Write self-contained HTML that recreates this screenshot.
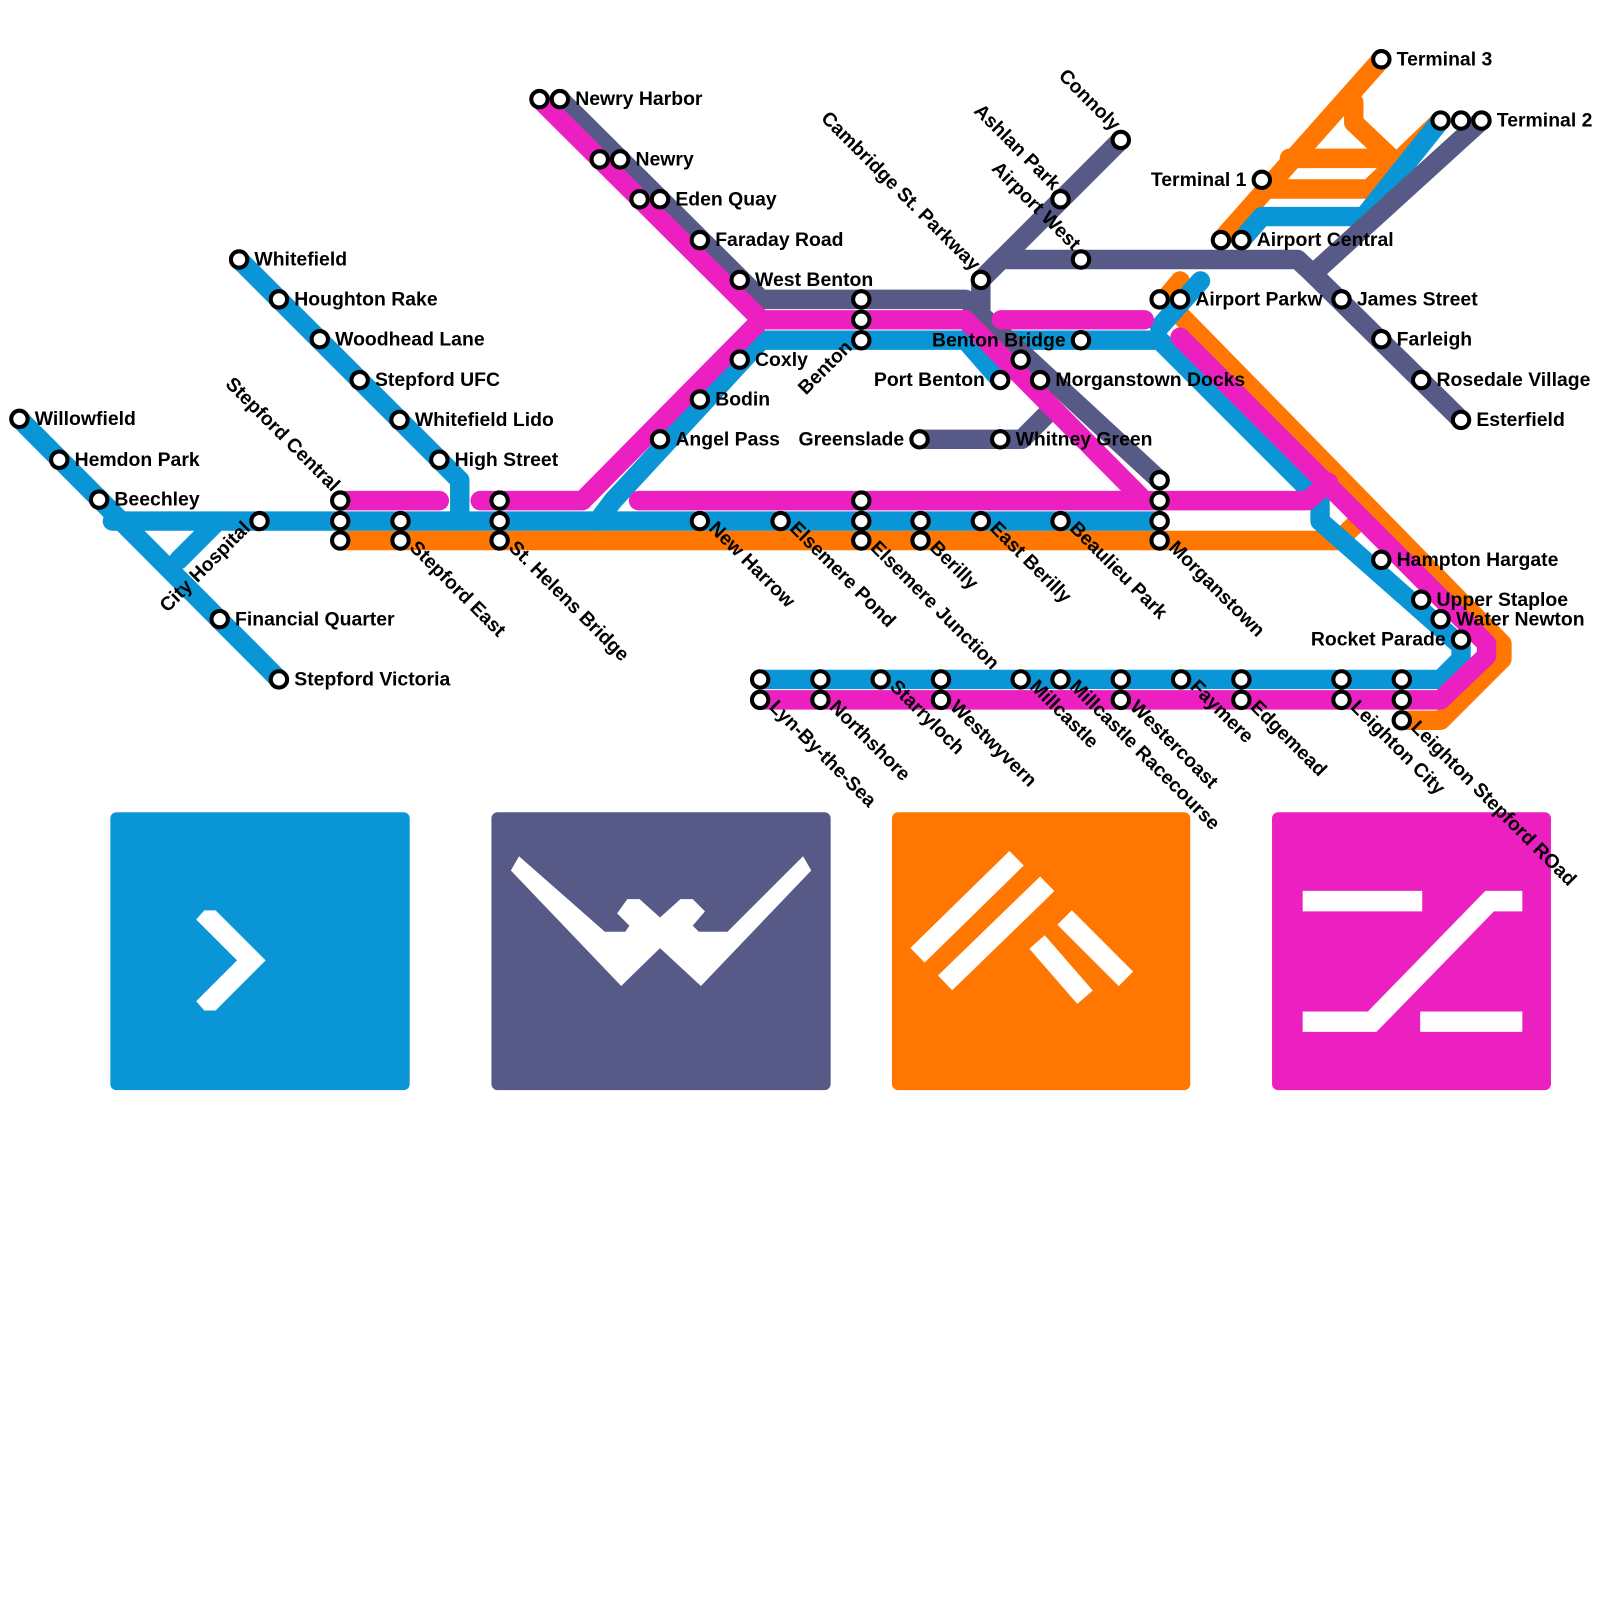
<!DOCTYPE html>
<html><head><meta charset="utf-8"><style>
html,body{margin:0;padding:0;background:#fff;}
svg{display:block;}
text{font-family:"Liberation Sans",sans-serif;font-weight:bold;font-size:19px;fill:#000;}
</style></head><body>
<svg width="1600" height="1600" viewBox="0 0 1566 1566" xmlns="http://www.w3.org/2000/svg">
<rect x="108" y="795" width="293" height="272" rx="6" fill="#0a96d6"/>
<rect x="481" y="795" width="332" height="272" rx="6" fill="#575a87"/>
<rect x="873" y="795" width="292" height="272" rx="6" fill="#ff7700"/>
<rect x="1245" y="795" width="273" height="272" rx="6" fill="#ec1fc0"/>
<polygon fill="#fff" points="192,900 200,891 211,891 260,940 211,989 200,989 192,980 232,940"/>
<polygon fill="#fff" points="500,852 508,838 592,912 612,912 616,906 604,894 614,880 626,880 646,898 666,880 678,880 690,892 678,906 684,912 712,912 786,838 794,852 686,965 646,928 608,965"/>
<g stroke="#fff" stroke-width="20" stroke-linecap="butt">
<line x1="898" y1="935" x2="995" y2="840"/>
<line x1="925" y1="962" x2="1025" y2="865"/>
<line x1="1015" y1="922" x2="1062" y2="976"/>
<line x1="1042" y1="898" x2="1102" y2="958"/>
</g>
<g stroke="#fff" stroke-width="20" stroke-linecap="butt" fill="none" stroke-linejoin="miter">
<line x1="1275" y1="882" x2="1392" y2="882"/>
<polyline points="1275,1000 1343,1000 1458,882 1490,882"/>
<line x1="1390" y1="1000" x2="1490" y2="1000"/>
</g>
<g fill="none" stroke-width="19" stroke-linejoin="round" stroke-linecap="round">
<g stroke="#ff7700">
<polyline points="333,529 1310,529 1335,505"/>
<polyline points="1372,705 1410,705 1470,645 1470,630 1140,293 1155,275"/>
<polyline points="1195,235 1352,58"/>
<polyline points="1240,185 1340,185 1410,118"/>
<polyline points="1262,155 1362,155"/>
<polyline points="1325,100 1325,120 1362,155"/>
</g>
<g stroke="#0a96d6">
<polyline points="19,410 273,665"/>
<polyline points="110,510 1135,510"/>
<polyline points="175,548 213,510"/>
<polyline points="234,254 450,470 450,510"/>
<polyline points="585,510 600,490 745,333 1135,333"/>
<polyline points="945,333 979,372"/>
<polyline points="1135,333 1280,478 1292,490 1292,510 1430,632 1430,645 1410,665 744,665"/>
<polyline points="1135,320 1175,275"/>
<polyline points="1215,235 1235,212 1335,212 1410,118"/>
</g>
<g stroke="#575a87">
<polyline points="548,97 745,293 945,293 960,305 960,274 1097,137"/>
<polyline points="960,274 980,254 1270,254 1285,268 1450,118"/>
<polyline points="1285,268 1430,411"/>
<polyline points="962,310 1135,470"/>
<polyline points="900,430 1000,430 1025,405"/>
</g>
<g stroke="#ec1fc0">
<polyline points="333,490 430,490"/>
<polyline points="470,490 570,490 745,313 528,97"/>
<polyline points="745,313 945,313 1120,490"/>
<polyline points="980,313 1120,313"/>
<polyline points="625,490 1280,490 1300,472"/>
<polyline points="1155,330 1455,630 1455,642 1410,685 744,685"/>
</g>
</g>
<g fill="#fff" stroke="#000" stroke-width="4">
<circle cx="19" cy="410" r="8"/><circle cx="58" cy="450" r="8"/><circle cx="97" cy="489" r="8"/>
<circle cx="254" cy="510" r="8"/><circle cx="215" cy="606" r="8"/><circle cx="273" cy="665" r="8"/>
<circle cx="234" cy="254" r="8"/><circle cx="273" cy="293" r="8"/><circle cx="313" cy="332" r="8"/>
<circle cx="352" cy="372" r="8"/><circle cx="391" cy="411" r="8"/><circle cx="430" cy="450" r="8"/>
<circle cx="333" cy="490" r="8"/><circle cx="333" cy="510" r="8"/><circle cx="333" cy="529" r="8"/>
<circle cx="392" cy="510" r="8"/><circle cx="392" cy="529" r="8"/>
<circle cx="489" cy="490" r="8"/><circle cx="489" cy="510" r="8"/><circle cx="489" cy="529" r="8"/>
<circle cx="685" cy="510" r="8"/><circle cx="764" cy="510" r="8"/>
<circle cx="843" cy="490" r="8"/><circle cx="843" cy="510" r="8"/><circle cx="843" cy="529" r="8"/>
<circle cx="901" cy="510" r="8"/><circle cx="901" cy="529" r="8"/>
<circle cx="960" cy="510" r="8"/><circle cx="1038" cy="510" r="8"/>
<circle cx="1135" cy="470" r="8"/><circle cx="1135" cy="490" r="8"/><circle cx="1135" cy="510" r="8"/><circle cx="1135" cy="529" r="8"/>
<circle cx="646" cy="430" r="8"/><circle cx="685" cy="391" r="8"/><circle cx="724" cy="352" r="8"/>
<circle cx="843" cy="293" r="8"/><circle cx="843" cy="313" r="8"/><circle cx="843" cy="333" r="8"/>
<circle cx="724" cy="274" r="8"/><circle cx="685" cy="235" r="8"/>
<circle cx="626" cy="195" r="8"/><circle cx="646" cy="195" r="8"/>
<circle cx="587" cy="156" r="8"/><circle cx="607" cy="156" r="8"/>
<circle cx="528" cy="97" r="8"/><circle cx="548" cy="97" r="8"/>
<circle cx="960" cy="274" r="8"/><circle cx="1038" cy="195" r="8"/><circle cx="1097" cy="137" r="8"/>
<circle cx="1058" cy="254" r="8"/><circle cx="1058" cy="333" r="8"/>
<circle cx="979" cy="372" r="8"/><circle cx="999" cy="352" r="8"/><circle cx="1018" cy="372" r="8"/>
<circle cx="900" cy="430" r="8"/><circle cx="979" cy="430" r="8"/>
<circle cx="1135" cy="293" r="8"/><circle cx="1155" cy="293" r="8"/>
<circle cx="1195" cy="235" r="8"/><circle cx="1215" cy="235" r="8"/>
<circle cx="1235" cy="176" r="8"/><circle cx="1352" cy="58" r="8"/>
<circle cx="1410" cy="118" r="8"/><circle cx="1430" cy="118" r="8"/><circle cx="1450" cy="118" r="8"/>
<circle cx="1313" cy="293" r="8"/><circle cx="1352" cy="332" r="8"/><circle cx="1391" cy="372" r="8"/><circle cx="1430" cy="411" r="8"/>
<circle cx="1352" cy="548" r="8"/><circle cx="1391" cy="587" r="8"/><circle cx="1410" cy="606" r="8"/><circle cx="1430" cy="626" r="8"/>
<circle cx="744" cy="665" r="8"/><circle cx="744" cy="685" r="8"/>
<circle cx="803" cy="665" r="8"/><circle cx="803" cy="685" r="8"/>
<circle cx="862" cy="665" r="8"/>
<circle cx="921" cy="665" r="8"/><circle cx="921" cy="685" r="8"/>
<circle cx="999" cy="665" r="8"/><circle cx="1038" cy="665" r="8"/>
<circle cx="1097" cy="665" r="8"/><circle cx="1097" cy="685" r="8"/>
<circle cx="1156" cy="665" r="8"/>
<circle cx="1215" cy="665" r="8"/><circle cx="1215" cy="685" r="8"/>
<circle cx="1313" cy="665" r="8"/><circle cx="1313" cy="685" r="8"/>
<circle cx="1372" cy="665" r="8"/><circle cx="1372" cy="685" r="8"/><circle cx="1372" cy="705" r="8"/>
</g>
<g>
<text x="34" y="416">Willowfield</text>
<text x="73" y="456">Hemdon Park</text>
<text x="112" y="495">Beechley</text>
<text x="230" y="612">Financial Quarter</text>
<text x="288" y="671">Stepford Victoria</text>
<text x="249" y="260">Whitefield</text>
<text x="288" y="299">Houghton Rake</text>
<text x="328" y="338">Woodhead Lane</text>
<text x="367" y="378">Stepford UFC</text>
<text x="406" y="417">Whitefield Lido</text>
<text x="445" y="456">High Street</text>
<text x="661" y="436">Angel Pass</text>
<text x="700" y="397">Bodin</text>
<text x="739" y="358">Coxly</text>
<text x="739" y="280">West Benton</text>
<text x="700" y="241">Faraday Road</text>
<text x="661" y="201">Eden Quay</text>
<text x="622" y="162">Newry</text>
<text x="563" y="103">Newry Harbor</text>
<text x="1043" y="339" text-anchor="end">Benton Bridge</text>
<text x="964" y="378" text-anchor="end">Port Benton</text>
<text x="1033" y="378">Morganstown Docks</text>
<text x="885" y="436" text-anchor="end">Greenslade</text>
<text x="994" y="436">Whitney Green</text>
<text x="1170" y="299">Airport Parkw</text>
<text x="1230" y="241">Airport Central</text>
<text x="1220" y="182" text-anchor="end">Terminal 1</text>
<text x="1367" y="64">Terminal 3</text>
<text x="1465" y="124">Terminal 2</text>
<text x="1328" y="299">James Street</text>
<text x="1367" y="338">Farleigh</text>
<text x="1406" y="378">Rosedale Village</text>
<text x="1445" y="417">Esterfield</text>
<text x="1367" y="554">Hampton Hargate</text>
<text x="1406" y="593">Upper Staploe</text>
<text x="1425" y="612">Water Newton</text>
<text x="1415" y="632" text-anchor="end">Rocket Parade</text>
</g>
<g text-anchor="end">
<text transform="translate(325,482) rotate(45)">Stepford Central</text>
<text transform="translate(952,266) rotate(45)">Cambridge St. Parkway</text>
<text transform="translate(1030,187) rotate(45)">Ashlan Park</text>
<text transform="translate(1050,246) rotate(45)">Airport West</text>
<text transform="translate(1089,129) rotate(45)">Connoly</text>
<text transform="translate(246,518) rotate(-45)">City Hospital</text>
<text transform="translate(835,341) rotate(-45)">Benton</text>
</g>
<g>
<text transform="translate(400,537) rotate(45)">Stepford East</text>
<text transform="translate(497,537) rotate(45)">St. Helens Bridge</text>
<text transform="translate(693,518) rotate(45)">New Harrow</text>
<text transform="translate(772,518) rotate(45)">Elsemere Pond</text>
<text transform="translate(851,537) rotate(45)">Elsemere Junction</text>
<text transform="translate(909,537) rotate(45)">Berilly</text>
<text transform="translate(968,518) rotate(45)">East Berilly</text>
<text transform="translate(1046,518) rotate(45)">Beaulieu Park</text>
<text transform="translate(1143,537) rotate(45)">Morganstown</text>
<text transform="translate(752,693) rotate(45)">Lyn-By-the-Sea</text>
<text transform="translate(811,693) rotate(45)">Northshore</text>
<text transform="translate(870,673) rotate(45)">Starryloch</text>
<text transform="translate(929,693) rotate(45)">Westwyvern</text>
<text transform="translate(1007,673) rotate(45)">Millcastle</text>
<text transform="translate(1046,673) rotate(45)">Millcastle Racecourse</text>
<text transform="translate(1105,693) rotate(45)">Westercoast</text>
<text transform="translate(1164,673) rotate(45)">Faymere</text>
<text transform="translate(1223,693) rotate(45)">Edgemead</text>
<text transform="translate(1321,693) rotate(45)">Leighton City</text>
<text transform="translate(1380,713) rotate(45)">Leighton Stepford ROad</text>
</g>
</svg>
</body></html>
